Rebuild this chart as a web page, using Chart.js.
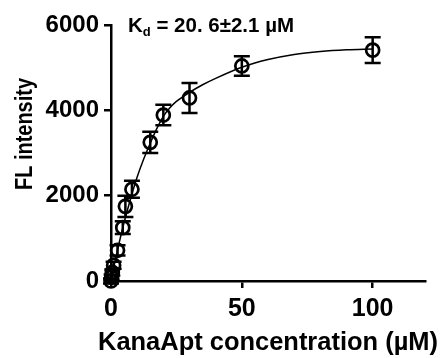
<!DOCTYPE html>
<html>
<head>
<meta charset="utf-8">
<script src="https://cdn.jsdelivr.net/npm/chart.js@4"></script>
<style>
  html, body { margin: 0; padding: 0; background: #fff; }
  #wrap { width: 445px; height: 358px; }
</style>
</head>
<body>
<div id="wrap"><canvas id="chart"></canvas></div>
<script>
// measured points (concentration in µM, FL intensity, error)
const conc = [0, 0.25, 0.5, 1, 2.5, 4.5, 5.5, 8, 15, 20, 30, 50, 100];
const intensity = [0, 90, 200, 370, 720, 1250, 1750, 2150, 3250, 3890, 4290, 5040, 5410];
const errors = [60, 60, 70, 80, 120, 150, 250, 200, 250, 240, 350, 230, 300];

// fitted curve
const fitX = [0, 1, 2, 3, 4, 5, 6, 8, 10, 12.5, 15, 17.5, 20, 22.5, 25, 30, 35, 40, 50, 60, 70, 80, 90, 100];
const fitY = [0, 300, 590, 865, 1125, 1370, 1600, 2040, 2440, 2860, 3230, 3570, 3860, 4060, 4210, 4420, 4600, 4750, 5010, 5190, 5310, 5380, 5420, 5440];

const xTicks = [0, 50, 100];
const yTicks = [0, 2000, 4000, 6000];

const yTitle = 'FL intensity';
const xTitle = 'KanaApt concentration (\u00b5M)';
const kdMain = 'K';
const kdSub = 'd';
const kdRest = ' = 20. 6\u00b12.1 \u00b5M';

const FONT = '"Liberation Sans", Arial, sans-serif';

const errorBars = {
  id: 'errorBars',
  afterDatasetsDraw(chart) {
    const { ctx, scales: { x, y } } = chart;
    ctx.save();
    ctx.strokeStyle = '#000';
    ctx.lineWidth = 2.5;
    conc.forEach((c, i) => {
      const px = x.getPixelForValue(c);
      const top = y.getPixelForValue(intensity[i] + errors[i]);
      const bot = y.getPixelForValue(intensity[i] - errors[i]);
      ctx.beginPath();
      ctx.moveTo(px, top); ctx.lineTo(px, bot);
      ctx.moveTo(px - 8, top); ctx.lineTo(px + 8, top);
      ctx.moveTo(px - 8, bot); ctx.lineTo(px + 8, bot);
      ctx.stroke();
    });
    ctx.restore();
  }
};

// axis titles and the Kd note, drawn by hand so they can run past the plot width
const texts = {
  id: 'texts',
  afterDraw(chart) {
    const ctx = chart.ctx;
    ctx.save();
    ctx.fillStyle = '#000';
    ctx.translate(25, 134);
    ctx.rotate(-Math.PI / 2);
    ctx.font = 'bold 24px ' + FONT;
    ctx.textAlign = 'center';
    ctx.textBaseline = 'middle';
    const w = ctx.measureText(yTitle).width;
    ctx.scale(112 / w, 1);
    ctx.fillText(yTitle, 0, 0);
    ctx.restore();

    ctx.save();
    ctx.fillStyle = '#000';
    ctx.font = 'bold 26px ' + FONT;
    ctx.textAlign = 'center';
    ctx.textBaseline = 'middle';
    ctx.translate(268, 343);
    const wx = ctx.measureText(xTitle).width;
    ctx.scale(340 / wx, 1);
    ctx.fillText(xTitle, 0, 0);
    ctx.restore();

    ctx.save();
    ctx.fillStyle = '#000';
    ctx.textBaseline = 'alphabetic';
    let px = 128;
    ctx.font = 'bold 20.5px ' + FONT;
    ctx.fillText(kdMain, px, 32);
    px += ctx.measureText(kdMain).width;
    ctx.font = 'bold 13px ' + FONT;
    ctx.fillText(kdSub, px, 36);
    px += ctx.measureText(kdSub).width;
    ctx.font = 'bold 20.5px ' + FONT;
    ctx.fillText(kdRest, px, 32);
    ctx.restore();
  }
};

new Chart(document.getElementById('chart'), {
  type: 'scatter',
  data: {
    datasets: [
      {
        data: conc.map((c, i) => ({ x: c, y: intensity[i] })),
        showLine: false,
        pointStyle: 'circle',
        pointRadius: 6.5,
        pointBorderWidth: 2.7,
        pointBorderColor: '#000',
        pointBackgroundColor: 'rgba(0,0,0,0)',
        clip: false
      },
      {
        data: fitX.map((c, i) => ({ x: c, y: fitY[i] })),
        showLine: true,
        borderColor: '#000',
        borderWidth: 1.5,
        pointRadius: 0,
        cubicInterpolationMode: 'monotone',
        clip: false
      }
    ]
  },
  plugins: [errorBars, texts],
  options: {
    responsive: true,
    maintainAspectRatio: false,
    animation: false,
    layout: { padding: { left: 0, right: 20, top: 25, bottom: 0 } },
    plugins: { legend: { display: false }, tooltip: { enabled: false } },
    scales: {
      x: {
        type: 'linear',
        min: 0,
        max: 120,
        afterFit(scale) { scale.height = 77; },
        afterBuildTicks(scale) { scale.ticks = xTicks.map(v => ({ value: v })); },
        ticks: {
          color: '#000',
          font: { family: FONT, size: 25, weight: 'bold' },
          padding: 6,
          callback: v => String(v)
        },
        grid: { drawOnChartArea: false, drawTicks: true, tickLength: 7, color: '#000', lineWidth: 2.5 },
        border: { color: '#000', width: 2.5 }
      },
      y: {
        min: 0,
        max: 6000,
        afterFit(scale) { scale.width = 111; },
        afterBuildTicks(scale) { scale.ticks = yTicks.map(v => ({ value: v })); },
        ticks: {
          color: '#000',
          font: { family: FONT, size: 24, weight: 'bold' },
          padding: 5,
          callback: v => String(v)
        },
        grid: { drawOnChartArea: false, drawTicks: true, tickLength: 7, color: '#000', lineWidth: 2.5 },
        border: { color: '#000', width: 2.5 }
      }
    }
  }
});
</script>
</body>
</html>
